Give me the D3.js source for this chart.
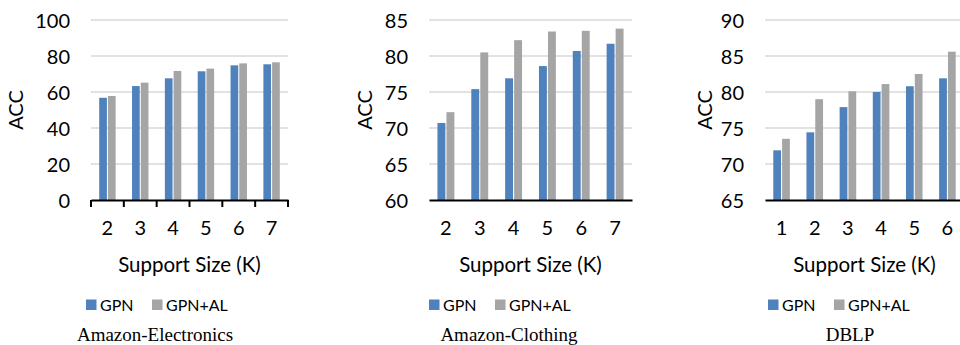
<!DOCTYPE html>
<html lang="en">
<head>
    <meta charset="UTF-8">
    <title>Support size vs ACC</title>
    <script src="https://d3js.org/d3.v7.min.js"></script>
    <style>
        body { margin: 0; background: #fff; }
        svg text { font-family: Lato, "Open Sans", sans-serif; fill: #000; }
        svg text.caption { font-family: "Liberation Serif", "Times New Roman", serif; }
    </style>
</head>
<body>
<div id="chart"></div>
<script>
    // values
    var series = ["GPN", "GPN+AL"];
    var colors = ["#4f81bd", "#a5a5a5"];

    var elecK = [2, 3, 4, 5, 6, 7];
    var elecGPN = [56.8, 63.3, 67.6, 71.5, 74.8, 75.4];
    var elecAL = [57.8, 65.2, 71.7, 73.0, 75.9, 76.5];
    var elecTicks = [0, 20, 40, 60, 80, 100];

    var clothK = [2, 3, 4, 5, 6, 7];
    var clothGPN = [70.7, 75.4, 76.9, 78.6, 80.7, 81.7];
    var clothAL = [72.2, 80.5, 82.2, 83.4, 83.5, 83.8];
    var clothTicks = [60, 65, 70, 75, 80, 85];

    var dblpK = [1, 2, 3, 4, 5, 6];
    var dblpGPN = [71.9, 74.4, 77.9, 80.0, 80.8, 81.9];
    var dblpAL = [73.5, 79.0, 80.1, 81.1, 82.5, 85.6];
    var dblpTicks = [65, 70, 75, 80, 85, 90];

    var svg = d3.select("#chart")
        .append("svg")
        .attr("width", 960)
        .attr("height", 345);

    var plotTop = 20, plotBottom = 200;

    function drawPanel(p) {
        var g = svg.append("g");

        var x0 = d3.scaleBand()
            .domain(p.k)
            .range([p.left, p.right])
            .paddingInner(0.5)
            .paddingOuter(0.25);

        var x1 = d3.scaleBand()
            .domain(series)
            .range([0, x0.bandwidth()])
            .paddingInner(0.12);

        var y = d3.scaleLinear()
            .domain([p.ticks[0], p.ticks[p.ticks.length - 1]])
            .range([plotBottom, plotTop]);

        // gridlines
        g.selectAll(".grid")
            .data(p.ticks.slice(1))
            .enter()
            .append("line")
            .attr("x1", p.left)
            .attr("x2", p.right)
            .attr("y1", function(d) { return y(d); })
            .attr("y2", function(d) { return y(d); })
            .attr("stroke", "#d9d9d9")
            .attr("stroke-width", 1.5);

        // y tick labels
        var yAxis = g.append("g")
            .attr("transform", "translate(" + p.left + ",0)")
            .call(d3.axisLeft(y).tickValues(p.ticks).tickSize(0).tickPadding(21));
        yAxis.select(".domain").remove();
        yAxis.selectAll("text").style("font-size", "20px").attr("dy", "0.36em");

        // bars
        var rows = p.k.map(function(k, i) {
            return { k: k, vals: [p.gpn[i], p.al[i]] };
        });

        g.selectAll(".grp")
            .data(rows)
            .enter()
            .append("g")
            .attr("transform", function(d) { return "translate(" + x0(d.k) + ",0)"; })
            .selectAll("rect")
            .data(function(d) { return d.vals.map(function(v, j) { return { s: series[j], v: v, j: j }; }); })
            .enter()
            .append("rect")
            .attr("x", function(d) { return x1(d.s); })
            .attr("y", function(d) { return y(d.v); })
            .attr("width", x1.bandwidth())
            .attr("height", function(d) { return plotBottom - y(d.v); })
            .attr("fill", function(d) { return colors[d.j]; });

        // x axis
        var xAxis = g.append("g")
            .attr("transform", "translate(0," + plotBottom + ")")
            .call(d3.axisBottom(x0).tickSize(0).tickPadding(21));
        xAxis.select(".domain").attr("stroke", "#000").attr("stroke-width", 2);
        xAxis.selectAll("text").style("font-size", "20px").attr("dy", "0.71em");

        if (p.boundaryTicks) {
            var step = x0.step();
            var bounds = d3.range(p.k.length + 1).map(function(i) { return p.left + i * step; });
            g.selectAll(".btick")
                .data(bounds)
                .enter()
                .append("line")
                .attr("x1", function(d) { return d; })
                .attr("x2", function(d) { return d; })
                .attr("y1", plotBottom)
                .attr("y2", plotBottom + 7)
                .attr("stroke", "#000")
                .attr("stroke-width", 2);
        }

        // axis titles
        g.append("text")
            .attr("x", (p.left + p.right) / 2)
            .attr("y", 272)
            .attr("text-anchor", "middle")
            .style("font-size", "20.5px")
            .text("Support Size (K)");

        g.append("text")
            .attr("transform", "translate(" + p.accX + "," + ((plotTop + plotBottom) / 2) + ") rotate(-90)")
            .attr("text-anchor", "middle")
            .attr("dy", "0.36em")
            .style("font-size", "20px")
            .text("ACC");

        // legend
        series.forEach(function(s, j) {
            var lx = p.legendX + j * 66;
            g.append("rect")
                .attr("x", lx)
                .attr("y", 299.5)
                .attr("width", 10.5)
                .attr("height", 10.5)
                .attr("fill", colors[j]);
            g.append("text")
                .attr("x", lx + 14)
                .attr("y", 311)
                .style("font-size", "16px")
                .text(s);
        });

        g.append("text")
            .attr("class", "caption")
            .attr("x", p.captionX)
            .attr("y", 341)
            .attr("text-anchor", "middle")
            .style("font-size", "19px")
            .text(p.caption);
    }

    drawPanel({ k: elecK, gpn: elecGPN, al: elecAL, ticks: elecTicks, left: 91, right: 288,
        accX: 16, legendX: 86, captionX: 155, caption: "Amazon-Electronics", boundaryTicks: true });
    drawPanel({ k: clothK, gpn: clothGPN, al: clothAL, ticks: clothTicks, left: 429, right: 632,
        accX: 365, legendX: 429, captionX: 509, caption: "Amazon-Clothing", boundaryTicks: false });
    drawPanel({ k: dblpK, gpn: dblpGPN, al: dblpAL, ticks: dblpTicks, left: 765, right: 964,
        accX: 705, legendX: 768, captionX: 850, caption: "DBLP", boundaryTicks: false });
</script>
</body>
</html>
